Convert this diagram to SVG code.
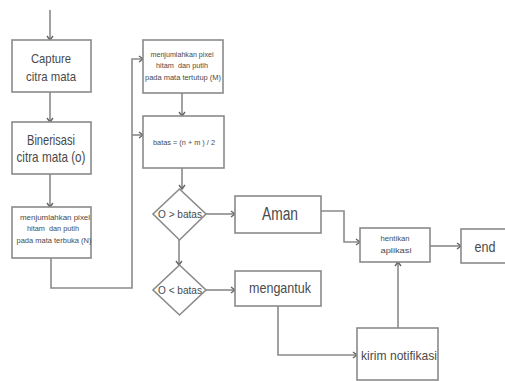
<svg xmlns="http://www.w3.org/2000/svg" width="505" height="381" viewBox="0 0 505 381">
<defs>
<marker id="arr" markerWidth="8" markerHeight="8" refX="6" refY="4" orient="auto" markerUnits="userSpaceOnUse">
<polyline points="2,1 6,4 2,7" fill="none" stroke="#666" stroke-width="1.4"/>
</marker>
<style>
.box{fill:#fff;stroke:#8a8a8a;stroke-width:1.6}
.ln{fill:none;stroke:#8a8a8a;stroke-width:1.6}
text{font-family:"Liberation Sans",Arial,sans-serif;fill:#4a4a4a;text-anchor:middle}
.s{font-size:8px}
.m{font-size:13px}
.l{font-size:15px}
</style>
</defs>
<rect width="505" height="381" fill="#fff"/>
<g id="connectors">
<path class="ln" d="M50,10 V40" marker-end="url(#arr)"/>
<path class="ln" d="M50,92 V122" marker-end="url(#arr)"/>
<path class="ln" d="M50,174 V207" marker-end="url(#arr)"/>
<path class="ln" d="M51,258 V288 H132 V59 H143" marker-end="url(#arr)"/>
<path class="ln" d="M132,135 H143" marker-end="url(#arr)"/>
<path class="ln" d="M182,93 V116" marker-end="url(#arr)"/>
<path class="ln" d="M182,168 V189" marker-end="url(#arr)"/>
<path class="ln" d="M206,214 H235" marker-end="url(#arr)"/>
<path class="ln" d="M179,240 V265" marker-end="url(#arr)"/>
<path class="ln" d="M206,290 H235" marker-end="url(#arr)"/>
<path class="ln" d="M321,211 H344 V242 H360" marker-end="url(#arr)"/>
<path class="ln" d="M430,246 H461" marker-end="url(#arr)"/>
<path class="ln" d="M278,306 V355 H357" marker-end="url(#arr)"/>
<path class="ln" d="M398,328 V262" marker-end="url(#arr)"/>
</g>
<g id="capture">
<rect class="box" x="12" y="40" width="79" height="52"/>
<text class="m" x="51" y="63" textLength="40" lengthAdjust="spacingAndGlyphs">Capture</text>
<text class="m" x="51" y="81" textLength="50" lengthAdjust="spacingAndGlyphs">citra mata</text>
</g>
<g id="binerisasi">
<rect class="box" x="12" y="122" width="79" height="52"/>
<text class="l" x="51" y="145" textLength="48" lengthAdjust="spacingAndGlyphs">Binerisasi</text>
<text class="l" x="51" y="162" textLength="69" lengthAdjust="spacingAndGlyphs">citra mata (o)</text>
</g>
<g id="hitungN">
<rect class="box" x="12" y="207" width="79" height="51"/>
<text class="s" x="55" y="220" textLength="70" lengthAdjust="spacingAndGlyphs">menjumlahkan pixel</text>
<text class="s" x="53" y="231" textLength="52" lengthAdjust="spacingAndGlyphs" xml:space="preserve">hitam  dan putih</text>
<text class="s" x="54" y="243" textLength="75" lengthAdjust="spacingAndGlyphs">pada mata terbuka (N)</text>
</g>
<g id="hitungM">
<rect class="box" x="143" y="40" width="80" height="53"/>
<text class="s" x="182" y="57" textLength="63" lengthAdjust="spacingAndGlyphs">menjumlahkan pixel</text>
<text class="s" x="182" y="68" textLength="52" lengthAdjust="spacingAndGlyphs" xml:space="preserve">hitam  dan putih</text>
<text class="s" x="183" y="80" textLength="76" lengthAdjust="spacingAndGlyphs">pada mata tertutup (M)</text>
</g>
<g id="batas">
<rect class="box" x="143" y="116" width="81" height="52"/>
<text class="s" x="184" y="145" textLength="62" lengthAdjust="spacingAndGlyphs">batas = (n + m ) / 2</text>
</g>
<g id="cek1">
<polygon class="box" points="179.5,189 206,214 179.5,240 153,214"/>
<text class="s" x="180" y="218" style="font-size:11px" textLength="44" lengthAdjust="spacingAndGlyphs">O &gt; batas</text>
</g>
<g id="cek2">
<polygon class="box" points="179.5,265 206,290 179.5,315 153,290"/>
<text class="s" x="180" y="294" style="font-size:11px" textLength="44" lengthAdjust="spacingAndGlyphs">O &lt; batas</text>
</g>
<g id="aman">
<rect class="box" x="235" y="196" width="86" height="37"/>
<text x="280" y="220" style="font-size:18px" textLength="36" lengthAdjust="spacingAndGlyphs">Aman</text>
</g>
<g id="mengantuk">
<rect class="box" x="235" y="271" width="86" height="35"/>
<text class="l" x="280" y="293" textLength="62" lengthAdjust="spacingAndGlyphs">mengantuk</text>
</g>
<g id="hentikan">
<rect class="box" x="360" y="228" width="70" height="34"/>
<text class="s" x="395" y="241" textLength="29" lengthAdjust="spacingAndGlyphs">hentikan</text>
<text class="s" x="396" y="253" textLength="31" lengthAdjust="spacingAndGlyphs">aplikasi</text>
</g>
<g id="end">
<rect class="box" x="461" y="229" width="50" height="34"/>
<text class="l" x="485" y="252" textLength="21" lengthAdjust="spacingAndGlyphs">end</text>
</g>
<g id="kirim">
<rect class="box" x="357" y="328" width="81" height="52"/>
<text class="m" x="399" y="360" textLength="76" lengthAdjust="spacingAndGlyphs">kirim notifikasi</text>
</g>
</svg>
